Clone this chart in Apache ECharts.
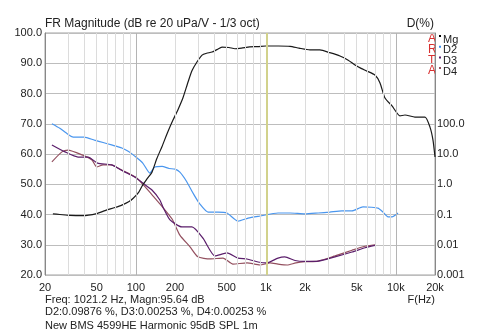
<!DOCTYPE html>
<html><head><meta charset="utf-8">
<script src="https://cdn.jsdelivr.net/npm/echarts@6/dist/echarts.min.js"></script>
<style>html,body{margin:0;padding:0;background:#fff}#c{width:480px;height:333px}</style>
</head><body><div id="c"></div>
<script>
// Frequency response (Hz, dB)
const mgFreq = [23,26,31,39,50,58,69,78,88,95,105,113,123,133,145,159,175,193,210,230,252,270,295,323,350,385,420,460,520,578,650,750,870,1000,1250,1534,1800,2183,2607,3100,3716,4300,4852,5400,6000,6906,7552,8246,9340,10760,11750,14030,16760,18300,19300,20000];
const mgDb   = [40.2,40.0,39.7,39.6,40.3,41.3,42.3,43.1,44.2,45.3,47.3,49.8,52.0,54.0,58.5,62.5,67.0,71.2,74.5,78.5,83.8,87.5,90.4,92.7,93.3,93.7,94.5,95.3,95.2,94.8,95.0,95.4,95.5,95.7,95.7,95.6,95.0,94.4,94.4,93.5,92.4,91.0,89.4,88.3,87.4,86.1,83.5,78.5,75.9,72.6,72.9,72.2,72.2,68.9,64.6,59.0];
const d2Freq = [22.6,26,29,33,40,48,56,65,78,88,98,113,128,140,159,180,200,218,245,275,310,359,428,502,611,730,901,1240,1534,2000,2527,3100,3850,4600,5580,6500,7290,7960,8700,9340,10380];
const d2Db   = [70.0,68.5,67.0,65.6,65.6,64.6,63.8,63.0,62.0,60.8,59.3,57.0,53.7,55.7,55.9,55.2,55.0,54.0,51.0,47.1,43.5,40.8,40.8,40.5,37.8,38.8,39.5,40.5,40.5,40.2,40.5,40.8,41.2,41.2,42.5,42.4,42.1,40.8,39.2,39.2,40.5];
const d3Freq = [22.6,28.5,35.9,42.9,50.7,65,82.5,98,113,133,153,163,183,226,270,328,406,502,611,716,870,1020,1240,1400,1676,2000,2527,3400,4600,5790,6906];
const d3Db   = [63.0,60.7,59.0,59.0,57.0,56.4,54.0,52.4,50.4,48.1,44.8,42.1,38.2,35.9,35.9,32.2,26.3,27.3,25.6,25.3,24.3,24.0,25.6,26.0,24.8,24.5,24.6,26.0,27.6,29.0,29.8];
const d4Freq = [22.6,27,30,38.6,46,50,56,65,75,87,102,118,140,163,190,218,261,300,372,468,558,716,901,1077,1240,1457,1700,2000,2527,3400,4600,5790,6906];
const d4Db   = [57.4,60.7,61.3,59.7,58.0,55.7,56.4,56.4,55.0,53.7,52.0,49.1,45.4,42.1,38.5,33.2,29.3,26.0,25.3,25.6,23.6,24.0,23.3,24.0,23.6,23.3,24.0,24.4,24.6,26.3,28.2,29.5,30.0];
// Axis labels / grid frequencies
const xLabels = [20,50,100,200,500,1000,2000,5000,10000,20000];
const minorFreqs = [30,40,50,60,70,80,90,200,300,400,500,600,700,800,900,2000,3000,4000,5000,6000,7000,8000,9000];
const majorFreqs = [100,1000,10000];
const cursorFreq = [1021.2];

const FONT = '"Liberation Sans", Arial, sans-serif';
const zip = (a,b) => a.map((v,i)=>[v,b[i]]);
const chart = echarts.init(document.getElementById('c'), null, {renderer:'canvas'});
const gridLines = [];
minorFreqs.forEach(f=>gridLines.push({xAxis:f, lineStyle:{color:'#dcdcdc', width:1, type:'solid'}}));
majorFreqs.forEach(f=>gridLines.push({xAxis:f, lineStyle:{color:'#b4b4b4', width:1, type:'solid'}}));
cursorFreq.forEach(f=>gridLines.push({xAxis:f, lineStyle:{color:'#d2d28c', width:2, type:'solid'}}));

const fmtPct = v => {
  if (v > 70) return '';
  const p = Math.pow(10, (v-20)/10 - 3);
  if (p >= 1) return p.toFixed(1);
  return String(Number(p.toPrecision(1)));
};

const legendItems = [['A','Mg','#000000'],['R','D2','#3d8fec'],['T','D3','#5b1e6b'],['A','D4','#93505f']];
const graphics = [];
legendItems.forEach((it,i)=>{
  const y = 40 + i*10.7;
  graphics.push({type:'text', left:428, top:y-7, style:{text:it[0], fill:'#d83030', font:'12px '+FONT}});
  graphics.push({type:'rect', shape:{x:439, y:y-5, width:2, height:2}, style:{fill:it[2]}});
  graphics.push({type:'text', left:443, top:y-6, style:{text:it[1], fill:'#222', font:'11px '+FONT}});
});
graphics.push({type:'text', left:45, top:294, style:{text:'Freq: 1021.2 Hz, Magn:95.64 dB', fill:'#222', font:'11px '+FONT}});
graphics.push({type:'text', left:45, top:306, style:{text:'D2:0.09876 %, D3:0.00253 %, D4:0.00253 %', fill:'#222', font:'11px '+FONT}});
graphics.push({type:'text', left:45, top:320, style:{text:'New BMS 4599HE Harmonic 95dB SPL 1m', fill:'#222', font:'11px '+FONT}});
graphics.push({type:'text', right:45, top:294, style:{text:'F(Hz)', fill:'#222', font:'11px '+FONT}});
graphics.push({type:'text', left:45, top:18, style:{text:'FR Magnitude (dB re 20 uPa/V - 1/3 oct)', fill:'#222', font:'12px '+FONT}});
graphics.push({type:'text', right:46, top:18, style:{text:'D(%)', fill:'#222', font:'12px '+FONT}});

chart.setOption({
  animation:false,
  backgroundColor:'#fff',
  grid:{left:45, right:45, top:33, bottom:58, show:true, borderColor:'#a0a0a0', borderWidth:1},
  xAxis:{type:'log', logBase:10, min:20, max:20000,
    axisLine:{show:false}, axisTick:{show:false}, splitLine:{show:false}, minorSplitLine:{show:false},
    axisLabel:{customValues:xLabels, color:'#222', fontFamily:FONT, fontSize:11, margin:7,
      formatter:v=> v>=1000 ? (v/1000)+'k' : String(v)}},
  yAxis:[
    {type:'value', min:20, max:100, interval:10,
      axisLine:{show:true, lineStyle:{color:'#888'}}, axisTick:{show:false},
      splitLine:{show:true, lineStyle:{color:'#bdbdbd', width:1}},
      axisLabel:{color:'#222', fontFamily:FONT, fontSize:11, margin:3, formatter:v=>v.toFixed(1)}},
    {type:'value', min:20, max:100, interval:10, position:'right',
      axisLine:{show:true, lineStyle:{color:'#888'}}, axisTick:{show:false}, splitLine:{show:false},
      axisLabel:{color:'#222', fontFamily:FONT, fontSize:11, margin:2, formatter:fmtPct}}
  ],
  graphic:graphics,
  series:[
    {type:'line', data:[], z:1, silent:true,
      markLine:{silent:true, symbol:['none','none'], label:{show:false}, animation:false, data:gridLines}},
    {name:'D4', type:'line', data:zip(d4Freq,d4Db), showSymbol:false, smooth:0.2, lineStyle:{color:'#93505f', width:1.2}, z:3},
    {name:'D3', type:'line', data:zip(d3Freq,d3Db), showSymbol:false, smooth:0.2, lineStyle:{color:'#5b1e6b', width:1.2}, z:3},
    {name:'D2', type:'line', data:zip(d2Freq,d2Db), showSymbol:false, smooth:0.2, lineStyle:{color:'#4a96ee', width:1.2}, z:3},
    {name:'Mg', type:'line', data:zip(mgFreq,mgDb), showSymbol:false, smooth:0.2, lineStyle:{color:'#1a1a1a', width:1.2}, z:4}
  ]
});
</script></body></html>
